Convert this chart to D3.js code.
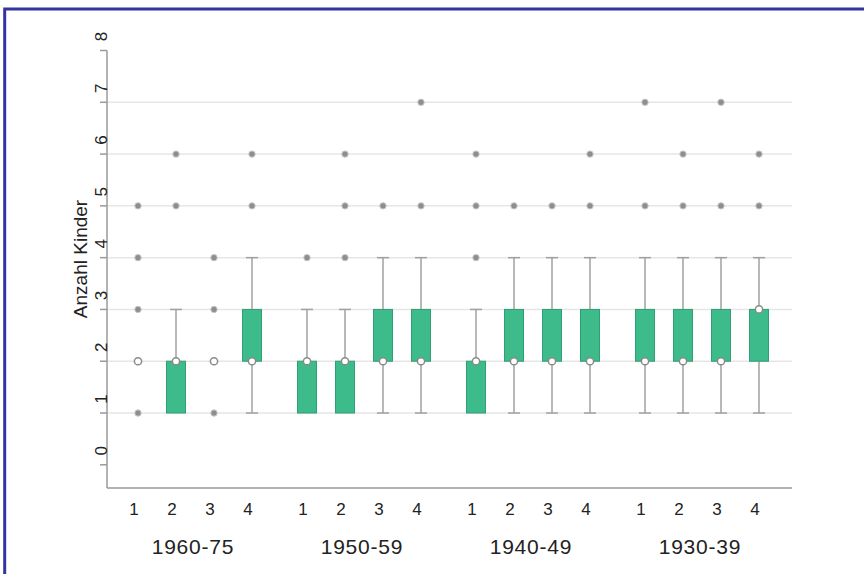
<!DOCTYPE html>
<html><head><meta charset="utf-8">
<script src="https://cdn.jsdelivr.net/npm/d3@7"></script>
<style>
html,body{margin:0;padding:0;background:#fff;}
svg{display:block;font-family:"Liberation Sans",Arial,sans-serif;}
</style></head>
<body><svg id="c" width="864" height="574"></svg>
<script>
const groups = ["1960-75","1950-59","1940-49","1930-39"];
const subs = ["1","2","3","4"];
const yTicks = [0,1,2,3,4,5,6,7,8];
const gridValues = [1,2,3,4,5,6,7];
// flattened: group-major, 4 subs each
const q1     = [2,1,2,2, 1,1,2,2, 1,2,2,2, 2,2,2,2];
const q3     = [2,2,2,3, 2,2,3,3, 2,3,3,3, 3,3,3,3];
const median = [2,2,2,2, 2,2,2,2, 2,2,2,2, 2,2,2,3];
const wLow   = [2,1,2,1, 1,1,1,1, 1,1,1,1, 1,1,1,1];
const wHigh  = [2,3,2,4, 3,3,4,4, 3,4,4,4, 4,4,4,4];
const outliers = [[1,3,4,5],[5,6],[1,3,4],[5,6],
                  [4],[4,5,6],[5],[5,7],
                  [4,5,6],[5],[5],[5,6],
                  [5,7],[5,6],[5,7],[5,6]];
const yLabel = "Anzahl Kinder";

const svg = d3.select("#c");
const y = d3.scaleLinear().domain([0,8]).range([464.8,50.5]);
const xg = d3.scaleBand().domain(groups).range([110.5,786.5]);
const xs = d3.scaleBand().domain(subs).range([8.5,160.5]);
const cx = (g,s) => xg(g) + xs(s) + xs.bandwidth()/2;

const data = [];
groups.forEach((g,gi)=>subs.forEach((s,si)=>{
  const i = gi*4+si;
  data.push({g,s,x:cx(g,s),q1:q1[i],q3:q3[i],med:median[i],lo:wLow[i],hi:wHigh[i],out:outliers[i]});
}));

// frame
svg.append("path").attr("d","M4.7,574 L4.7,9 L864,9").attr("fill","none")
  .attr("stroke","#3434a0").attr("stroke-width",3);

// grid
svg.append("g").selectAll("line").data(gridValues).join("line")
  .attr("x1",107).attr("x2",792).attr("y1",d=>y(d)).attr("y2",d=>y(d))
  .attr("stroke","#e6e6e6").attr("stroke-width",1.5);

// axes
const axG = svg.append("g");
axG.append("line").attr("x1",107).attr("x2",107).attr("y1",y(8)).attr("y2",488)
  .attr("stroke","#9a9a9a").attr("stroke-width",1.5);
axG.append("line").attr("x1",107).attr("x2",792).attr("y1",488).attr("y2",488)
  .attr("stroke","#9a9a9a").attr("stroke-width",1.5);
axG.selectAll("line.t").data(yTicks).join("line").attr("class","t")
  .attr("x1",100).attr("x2",107).attr("y1",d=>y(d)).attr("y2",d=>y(d))
  .attr("stroke","#9a9a9a").attr("stroke-width",1.5);
axG.selectAll("text.yl").data(yTicks).join("text").attr("class","yl")
  .attr("transform",d=>`translate(101,${y(d)-14}) rotate(-90)`)
  .attr("text-anchor","middle").attr("dominant-baseline","central")
  .attr("font-size",17).attr("fill","#222").text(d=>d);
svg.append("text").attr("transform","translate(80,259) rotate(-90)")
  .attr("text-anchor","middle").attr("dominant-baseline","central")
  .attr("font-size",19).attr("fill","#222").text(yLabel);

// sub labels
svg.append("g").selectAll("text").data(data).join("text")
  .attr("x",d=>d.x-4).attr("y",509).attr("text-anchor","middle")
  .attr("dominant-baseline","central").attr("font-size",17).attr("fill","#222")
  .text(d=>d.s);
// group labels
svg.append("g").selectAll("text").data(groups).join("text")
  .attr("x",d=>xg(d)+xg.bandwidth()/2-2).attr("y",546).attr("text-anchor","middle")
  .attr("dominant-baseline","central").attr("font-size",21).attr("letter-spacing",0.8)
  .attr("fill","#222").text(d=>d);

// boxes
const bw = 19, cw = 12;
const b = svg.append("g").selectAll("g").data(data).join("g");
b.filter(d=>d.hi>d.q3).append("line").attr("x1",d=>d.x).attr("x2",d=>d.x)
  .attr("y1",d=>y(d.q3)).attr("y2",d=>y(d.hi)).attr("stroke","#a0a0a0").attr("stroke-width",1.5);
b.filter(d=>d.lo<d.q1).append("line").attr("x1",d=>d.x).attr("x2",d=>d.x)
  .attr("y1",d=>y(d.q1)).attr("y2",d=>y(d.lo)).attr("stroke","#a0a0a0").attr("stroke-width",1.5);
b.filter(d=>d.hi>d.q3).append("line").attr("x1",d=>d.x-cw/2).attr("x2",d=>d.x+cw/2)
  .attr("y1",d=>y(d.hi)).attr("y2",d=>y(d.hi)).attr("stroke","#a0a0a0").attr("stroke-width",1.5);
b.filter(d=>d.lo<d.q1).append("line").attr("x1",d=>d.x-cw/2).attr("x2",d=>d.x+cw/2)
  .attr("y1",d=>y(d.lo)).attr("y2",d=>y(d.lo)).attr("stroke","#a0a0a0").attr("stroke-width",1.5);
b.filter(d=>d.q3>d.q1).append("rect").attr("x",d=>d.x-bw/2).attr("width",bw)
  .attr("y",d=>y(d.q3)).attr("height",d=>y(d.q1)-y(d.q3))
  .attr("fill","#3dbb8b").attr("stroke","#2f9f76").attr("stroke-width",1);
// outliers
b.selectAll("circle.o").data(d=>d.out.map(v=>({x:d.x,v}))).join("circle").attr("class","o")
  .attr("cx",d=>d.x).attr("cy",d=>y(d.v)).attr("r",3.2)
  .attr("fill","#8e8e8e").attr("stroke","#c8c8c8").attr("stroke-width",1);
// medians
b.append("circle").attr("cx",d=>d.x).attr("cy",d=>y(d.med)).attr("r",3.6)
  .attr("fill","#fff").attr("stroke","#8a8a8a").attr("stroke-width",1.5);
</script></body></html>
